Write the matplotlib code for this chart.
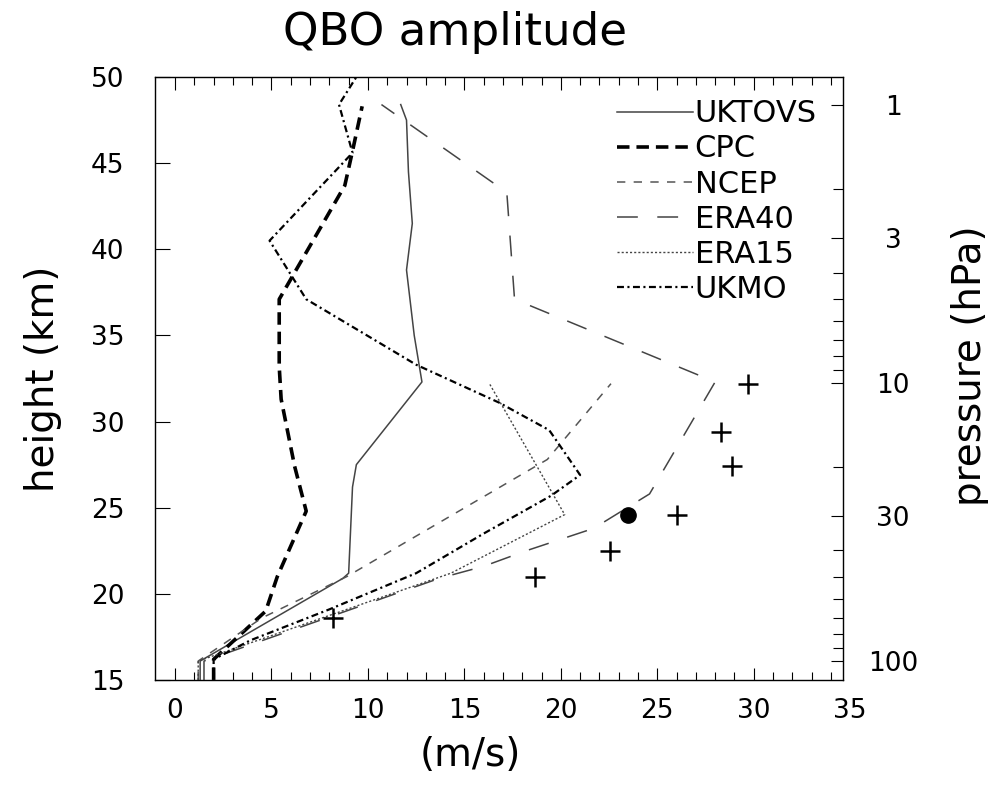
import numpy as np
import matplotlib
matplotlib.use("Agg")
import matplotlib.pyplot as plt

plt.rcParams['font.family'] = ['DejaVu Sans']
plt.rcParams['lines.scale_dashes'] = False

# ---------------- data (amplitude m/s vs height km) ----------------
uktovs_z = [15.0, 16.1, 20.9, 21.2, 26.2, 27.5, 32.3, 35.0, 38.8, 41.5, 44.5, 47.5, 48.4]
uktovs_x = [1.3, 1.3, 8.7, 9.0, 9.2, 9.4, 12.8, 12.4, 12.0, 12.3, 12.1, 12.0, 11.7]

cpc_z = [15.0, 16.2, 19.0, 21.0, 24.8, 27.4, 31.3, 33.2, 37.1, 43.7, 45.7, 48.3]
cpc_x = [2.0, 2.0, 4.7, 5.3, 6.8, 6.2, 5.5, 5.4, 5.4, 8.8, 9.2, 9.7]

ncep_z = [15.0, 16.1, 18.6, 21.0, 27.8, 32.2]
ncep_x = [1.2, 1.2, 4.5, 8.9, 19.3, 22.6]

era40_z = [15.0, 16.1, 20.9, 21.6, 22.5, 23.8, 25.8, 32.3, 37.1, 43.3, 48.4]
era40_x = [1.5, 1.5, 13.7, 16.0, 18.2, 21.7, 24.6, 28.0, 17.6, 17.2, 10.7]

era15_z = [15.0, 16.1, 21.2, 24.6, 32.2]
era15_x = [1.2, 1.2, 14.3, 20.2, 16.3]

ukmo_z = [15.0, 16.2, 17.3, 19.1, 21.2, 23.5, 25.7, 26.9, 29.5, 31.1, 33.3, 37.1, 40.5, 45.6, 48.4, 50.0]
ukmo_x = [2.0, 2.0, 3.9, 8.0, 12.5, 16.0, 19.5, 21.0, 19.4, 16.8, 12.5, 6.8, 4.9, 9.2, 8.5, 9.4]

plus_z = [32.2, 29.4, 27.4, 24.6, 22.5, 21.0, 18.6]
plus_x = [29.7, 28.3, 28.9, 26.0, 22.55, 18.66, 8.2]

dot_z = [24.6]
dot_x = [23.5]

x_ticks = [0, 5, 10, 15, 20, 25, 30, 35]
y_ticks = [15, 20, 25, 30, 35, 40, 45, 50]
p_major = [1, 3, 10, 30, 100]
p_minor = [2, 4, 5, 6, 7, 8, 9, 20, 40, 50, 60, 70, 80, 90]
scale_height = 7.0

# ---------------- figure ----------------
fig = plt.figure(figsize=(9.99, 7.88), dpi=100)
ax = fig.add_axes([155/999, 1-680/788, (843-155)/999, (680-77)/788])

ax.plot(uktovs_x, uktovs_z, color='#444444', lw=1.1, label='UKTOVS')
ax.plot(cpc_x, cpc_z, color='black', lw=2.6, dashes=(9, 5), label='CPC')
ax.plot(ncep_x, ncep_z, color='#555555', lw=1.1, dashes=(6, 6), label='NCEP')
ax.plot(era40_x, era40_z, color='#444444', lw=1.1, dashes=(15, 14), label='ERA40')
ax.plot(era15_x, era15_z, color='#444444', lw=1.0, dashes=(1.5, 1.5), label='ERA15')
ax.plot(ukmo_x, ukmo_z, color='black', lw=1.6, dashes=(5, 2.5, 1.5, 2.5), label='UKMO')

ax.plot(plus_x, plus_z, linestyle='none', marker='+', ms=15, mew=1.8, color='black')
ax.plot(dot_x, dot_z, linestyle='none', marker='o', ms=11, color='black')

x0 = -1.04
x1 = 34.63
ax.set_xlim(x0, x1)
ax.set_ylim(15, 50)

ax.set_xticks([t for t in x_ticks if t <= x1])
ax.set_xticks(np.arange(0, 35, 1), minor=True)
ax.set_yticks(y_ticks)
ax.tick_params(axis='x', which='both', direction='in', top=True, labelsize=19, pad=13)
ax.tick_params(axis='x', which='major', length=9, width=0.8)
ax.tick_params(axis='x', which='minor', length=6, width=0.8)
ax.tick_params(axis='y', which='major', direction='in', length=11, width=0.8, labelsize=19, pad=22)
ax.tick_params(axis='y', which='minor', left=False, right=False)
ax.tick_params(axis='y', right=False)
for t in x_ticks:
    if t > x1:
        ax.text(t, -0.03, str(t), transform=ax.get_xaxis_transform(), ha='center', va='top',
                fontsize=19, clip_on=False)

for s in ax.spines.values():
    s.set_linewidth(1.0)
    s.set_color('#333333')

# right pressure axis
ax2 = ax.twinx()
ax2.set_ylim(15, 50)
ax2.set_yticks([scale_height*np.log(1000.0/p) for p in p_major])
ax2.set_yticklabels([str(p) for p in p_major])
ax2.set_yticks([scale_height*np.log(1000.0/p) for p in p_minor], minor=True)
ax2.tick_params(axis='y', which='both', direction='in', width=0.8)
ax2.tick_params(axis='y', which='major', length=9, labelsize=19, pad=36)
ax2.tick_params(axis='y', which='minor', length=7)
for lab in ax2.get_yticklabels():
    lab.set_ha('center')

ax.set_ylabel('height (km)', fontsize=28)
ax.yaxis.set_label_coords(-(155-43)/688, 0.5)
ax.set_xlabel('(m/s)', fontsize=28)
ax.xaxis.set_label_coords((470-155)/688, -(755-680)/603)
ax.xaxis.label.set_va('center')
ax.yaxis.label.set_va('center')
ax2.set_ylabel('pressure (hPa)', fontsize=28, rotation=90)
ax2.yaxis.set_label_coords((970-155)/688, 0.5 + (378-365)/603)
ax2.yaxis.label.set_va('center')
fig.text(455/999, 1-45/788, 'QBO amplitude', fontsize=32.5, ha='center', va='baseline')

leg = ax.legend(loc='upper right', bbox_to_anchor=(0.962, 0.963), frameon=False,
                fontsize=22, handlelength=2.5, handletextpad=0.05, labelspacing=0.2,
                borderpad=0.0, borderaxespad=0.0)

fig.savefig('out.png', dpi=100)
